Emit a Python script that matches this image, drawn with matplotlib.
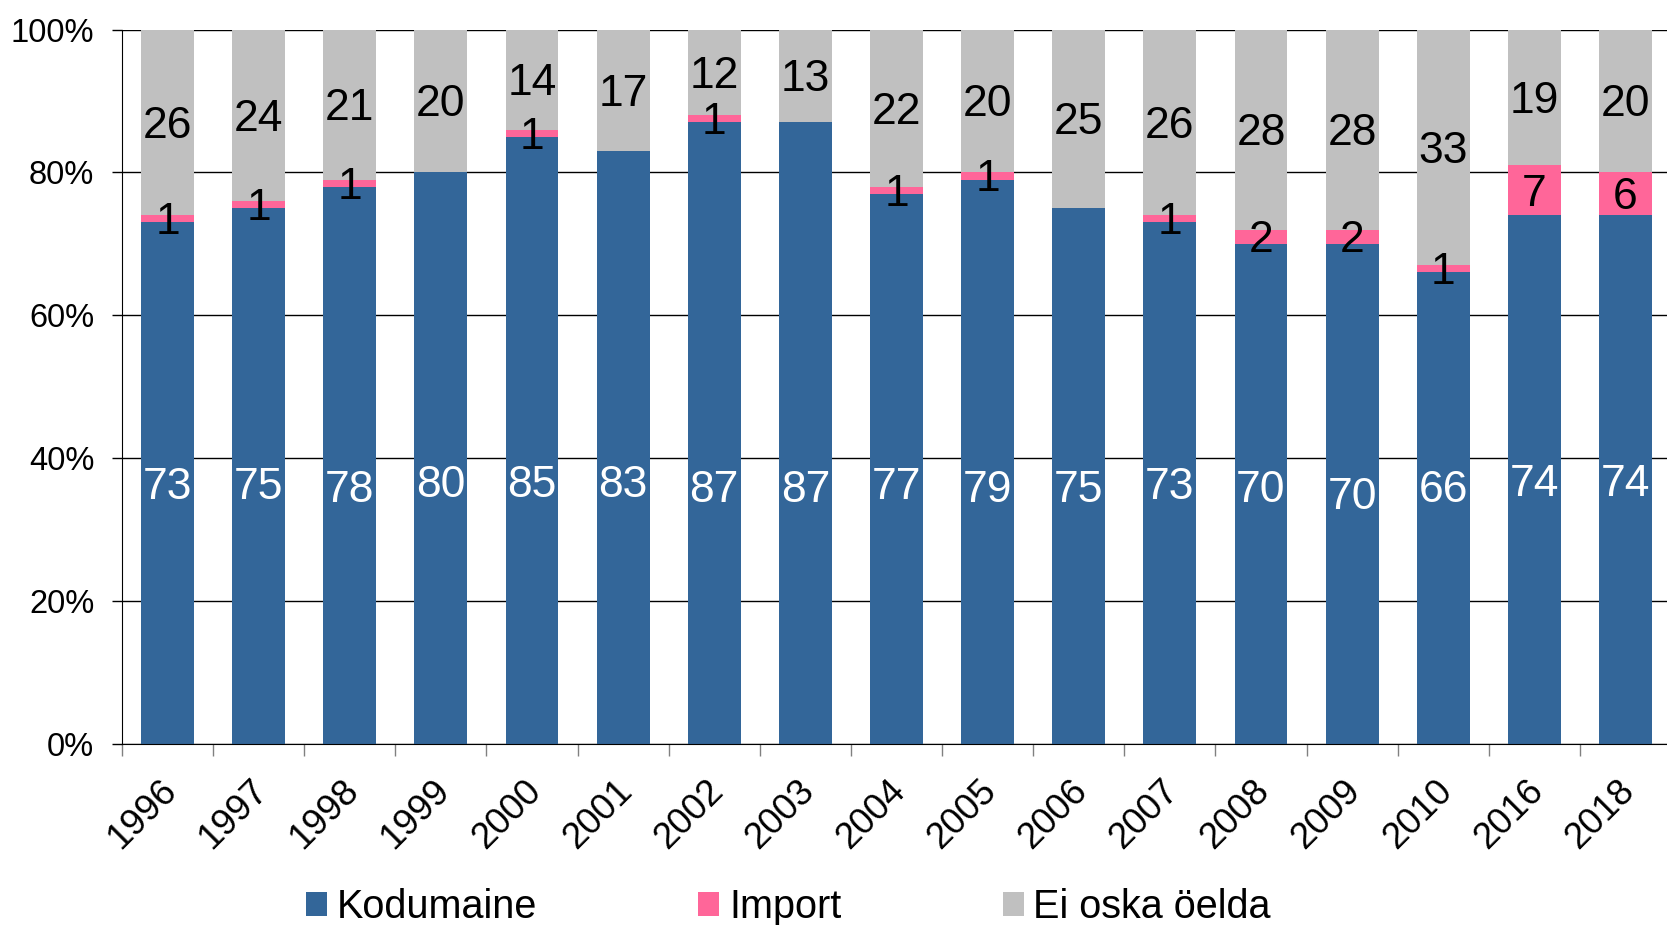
import numpy as np
import matplotlib
matplotlib.use("Agg")
from matplotlib import pyplot as plt
from matplotlib.patches import Patch
from matplotlib.transforms import ScaledTranslation

plt.rcParams['font.family'] = ['Liberation Sans', 'DejaVu Sans']

# andmed
years = ['1996', '1997', '1998', '1999', '2000', '2001', '2002', '2003', '2004',
         '2005', '2006', '2007', '2008', '2009', '2010', '2016', '2018']
kodumaine = [73, 75, 78, 80, 85, 83, 87, 87, 77, 79, 75, 73, 70, 70, 66, 74, 74]
imp = [1, 1, 1, 0, 1, 0, 1, 0, 1, 1, 0, 1, 2, 2, 1, 7, 6]
ei_oska = [26, 24, 21, 20, 14, 17, 12, 13, 22, 20, 25, 26, 28, 28, 33, 19, 20]
series_names = ['Kodumaine', 'Import', 'Ei oska öelda']

# valged sildid ei ole tulba keskel, vaid umbes samal kõrgusel
blue_label_y = [36.4, 36.4, 36.0, 36.7, 36.7, 36.7, 36.0, 36.0, 36.4,
                36.0, 36.0, 36.4, 36.0, 35.0, 36.0, 36.9, 36.9]

c_blue = '#336699'
c_pink = '#FF6699'
c_gray = '#C0C0C0'

fig = plt.figure(figsize=(16.67, 9.25), dpi=100)
ax = fig.add_axes([122 / 1667, 181 / 925, 1549 / 1667, 714.5 / 925])

x = np.arange(len(years))
k = np.array(kodumaine)
i_ = np.array(imp)
e = np.array(ei_oska)
w = 0.58

ax.bar(x, k, w, color=c_blue, linewidth=0, zorder=2)
ax.bar(x, i_, w, bottom=k, color=c_pink, linewidth=0, zorder=2)
ax.bar(x, e, w, bottom=k + i_, color=c_gray, linewidth=0, zorder=2)

# sildid veidi allapoole (Exceli paigutus)
lab_tr = ax.transData + ScaledTranslation(0, -0.04, fig.dpi_scale_trans)
fs_lab = 32
for n in range(len(years)):
    ax.text(x[n], blue_label_y[n], str(k[n]), ha='center', va='center',
            fontsize=fs_lab, color='white', zorder=3, transform=lab_tr)
    if i_[n] > 0:
        ax.text(x[n], k[n] + i_[n] / 2, str(i_[n]), ha='center', va='center',
                fontsize=fs_lab, color='black', zorder=3, transform=lab_tr)
    ax.text(x[n], k[n] + i_[n] + e[n] / 2, str(e[n]), ha='center', va='center',
            fontsize=fs_lab, color='black', zorder=3, transform=lab_tr)

ax.set_xlim(-0.5, len(years) - 0.5)
ax.set_ylim(0, 100)
ax.set_yticks(range(0, 101, 20))
ax.set_yticklabels(['%d%%' % v for v in range(0, 101, 20)], fontsize=23.5)
ax.tick_params(axis='y', length=7, width=1, color='black', pad=13)
ax.yaxis.grid(True, color='black', linewidth=1, zorder=0)
ax.set_axisbelow(True)

# tulpade vahel kriipsud, aastad tulpade all
ax.set_xticks(np.arange(-0.5, len(years), 1.0))
ax.set_xticklabels([])
ax.tick_params(axis='x', which='major', length=8.6, width=1, color='#808080')
ax.set_xticks(x, minor=True)
ax.set_xticklabels(years, minor=True, fontsize=26.5, rotation=45,
                   ha='right', va='top', rotation_mode='anchor')
ax.tick_params(axis='x', which='minor', length=0, pad=21)
shift = ScaledTranslation(-0.09, 0, fig.dpi_scale_trans)
for lbl in ax.get_xticklabels(minor=True):
    lbl.set_transform(lbl.get_transform() + shift)

for s in ['top', 'right']:
    ax.spines[s].set_visible(False)
ax.spines['left'].set_color('black')
ax.spines['bottom'].set_color('black')

handles = [Patch(facecolor=c, edgecolor='none') for c in (c_blue, c_pink, c_gray)]
fig.legend(handles, series_names, loc='center', bbox_to_anchor=(0.473, 0.019),
           ncol=3, frameon=False, fontsize=28.5, handlelength=0.53, handleheight=0.55,
           handletextpad=0.25, columnspacing=4.07, borderpad=0)

fig.savefig('out.png', dpi=100)
